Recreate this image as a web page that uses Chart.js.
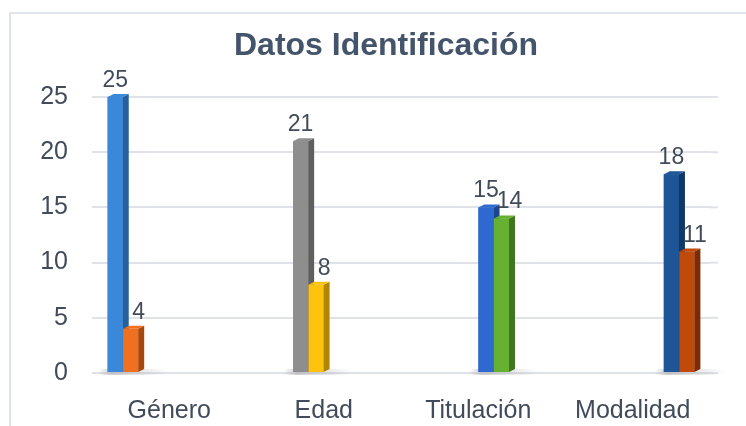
<!DOCTYPE html>
<html lang="es">
<head>
    <meta charset="UTF-8">
    <title>Datos Identificación</title>
    <style>
        body {
            margin: 0;
            padding: 0;
            background-color: #fff;
        }
        .container {
            width: 746px;
            height: 426px;
            position: relative;
        }
    </style>
    <script src="https://cdn.jsdelivr.net/npm/chart.js"></script>
</head>
<body>
    <div class="container">
        <canvas id="datosChart" width="746" height="426"></canvas>
    </div>

    <script>
        const chartTitle = 'Datos Identificación';
        const categories = ['Género', 'Edad', 'Titulación', 'Modalidad'];

        // one series per bar, each only has a value in its own category
        const generoA = [25, null, null, null];
        const generoB = [4, null, null, null];
        const edadA = [null, 21, null, null];
        const edadB = [null, 8, null, null];
        const titulacionA = [null, null, 15, null];
        const titulacionB = [null, null, 14, null];
        const modalidadA = [null, null, null, 18];
        const modalidadB = [null, null, null, 11];

        const yTicks = [0, 5, 10, 15, 20, 25];

        const series = [generoA, generoB, edadA, edadB, titulacionA, titulacionB, modalidadA, modalidadB];
        const faceColors = ['#3a88da', '#f07022', '#8e8e8e', '#ffc20e', '#2f68cf', '#66b032', '#1d5597', '#c04a0a'];
        const sideColors = ['#275f9c', '#a9480e', '#5f5f5f', '#b08500', '#1e4590', '#3f7620', '#103866', '#7c2b04'];

        const textColor = '#414b5a';
        const fontFamily = '"Liberation Sans", Arial, sans-serif';

        const depthX = 6, depthY = -3;

        const background = {
            id: 'background',
            beforeDraw(chart) {
                const ctx = chart.ctx;
                ctx.save();
                ctx.fillStyle = '#fff';
                ctx.fillRect(0, 0, chart.width, chart.height);
                ctx.strokeStyle = '#dfe3ea';
                ctx.lineWidth = 2;
                ctx.beginPath();
                ctx.moveTo(10, chart.height);
                ctx.lineTo(10, 13);
                ctx.lineTo(chart.width, 13);
                ctx.stroke();
                // title sits over the middle of the frame, not the plot
                ctx.font = 'bold 32px ' + fontFamily;
                ctx.fillStyle = '#44546a';
                ctx.textAlign = 'center';
                ctx.textBaseline = 'middle';
                ctx.fillText(chartTitle, 386, 46);
                ctx.restore();
            },
            beforeDatasetsDraw(chart) {
                const ctx = chart.ctx;
                const area = chart.chartArea;
                const yScale = chart.scales.y;
                const base = yScale.getPixelForValue(0);
                ctx.save();
                // the back wall reaches a bit past the plot area
                ctx.strokeStyle = '#dfe2e7';
                ctx.lineWidth = 2;
                yTicks.forEach(v => {
                    const y = yScale.getPixelForValue(v);
                    ctx.beginPath();
                    ctx.moveTo(area.right, y);
                    ctx.lineTo(area.right + 8, y);
                    ctx.stroke();
                });
                // soft floor shadows under each pair of bars
                chart.data.datasets.forEach((ds, i) => {
                    if (i % 2 === 1) return;
                    const meta = chart.getDatasetMeta(i);
                    meta.data.forEach((bar, j) => {
                        if (ds.data[j] == null) return;
                        const left = bar.x - bar.width / 2;
                        const g = ctx.createLinearGradient(left - 10, 0, left + bar.width * 2 + 30, 0);
                        g.addColorStop(0, 'rgba(150,150,150,0)');
                        g.addColorStop(0.2, 'rgba(150,150,150,0.45)');
                        g.addColorStop(1, 'rgba(150,150,150,0)');
                        ctx.fillStyle = g;
                        ctx.beginPath();
                        ctx.moveTo(left - 12, base + 2);
                        ctx.lineTo(left + bar.width * 2 + 30, base + 2);
                        ctx.lineTo(left + bar.width * 2 + 34, base - 4);
                        ctx.lineTo(left - 6, base - 4);
                        ctx.closePath();
                        ctx.fill();
                    });
                });
                ctx.restore();
            }
        };

        // redraws every bar front to back with a side and a top so the
        // later bar of a pair sits in front of the earlier one's side
        const bars3d = {
            id: 'bars3d',
            afterDatasetsDraw(chart) {
                const ctx = chart.ctx;
                ctx.save();
                chart.data.datasets.forEach((ds, i) => {
                    const meta = chart.getDatasetMeta(i);
                    meta.data.forEach((bar, j) => {
                        if (ds.data[j] == null) return;
                        const l = bar.x - bar.width / 2;
                        const r = bar.x + bar.width / 2;
                        ctx.fillStyle = faceColors[i];
                        ctx.fillRect(l, bar.y, r - l, bar.base - bar.y);
                        ctx.fillStyle = sideColors[i];
                        ctx.beginPath();
                        ctx.moveTo(r, bar.y);
                        ctx.lineTo(r + depthX, bar.y + depthY);
                        ctx.lineTo(r + depthX, bar.base + depthY);
                        ctx.lineTo(r, bar.base);
                        ctx.closePath();
                        ctx.fill();
                        ctx.fillStyle = faceColors[i];
                        ctx.beginPath();
                        ctx.moveTo(l, bar.y);
                        ctx.lineTo(l + depthX, bar.y + depthY);
                        ctx.lineTo(r + depthX, bar.y + depthY);
                        ctx.lineTo(r, bar.y);
                        ctx.closePath();
                        ctx.fill();
                    });
                });

                ctx.font = '23px ' + fontFamily;
                ctx.fillStyle = textColor;
                ctx.textAlign = 'center';
                ctx.textBaseline = 'alphabetic';
                chart.data.datasets.forEach((ds, i) => {
                    const meta = chart.getDatasetMeta(i);
                    meta.data.forEach((bar, j) => {
                        if (ds.data[j] == null) return;
                        const shift = i % 2 === 1 ? 8 : 0;
                        ctx.fillText(String(ds.data[j]), bar.x + shift, bar.y - 10);
                    });
                });
                ctx.restore();
            }
        };

        const ctx = document.getElementById('datosChart').getContext('2d');
        new Chart(ctx, {
            type: 'bar',
            data: {
                labels: categories,
                datasets: series.map((values, i) => ({
                    data: values,
                    backgroundColor: faceColors[i],
                    borderWidth: 0,
                    categoryPercentage: 0.8,
                    barPercentage: 0.98
                }))
            },
            options: {
                responsive: false,
                animation: false,
                layout: {
                    padding: { top: 97, right: 36, bottom: 0, left: 0 }
                },
                plugins: {
                    legend: { display: false },
                    tooltip: { enabled: false },
                    title: { display: false }
                },
                scales: {
                    x: {
                        grid: { display: false },
                        border: { display: false },
                        ticks: {
                            color: textColor,
                            font: { family: fontFamily, size: 25 },
                            padding: 15
                        },
                        afterFit(scale) { scale.height = 53; }
                    },
                    y: {
                        min: 0,
                        max: 25,
                        afterBuildTicks(scale) {
                            scale.ticks = yTicks.map(v => ({ value: v }));
                        },
                        grid: { color: '#dfe2e7', lineWidth: 2, drawTicks: false },
                        border: { display: false },
                        ticks: {
                            color: textColor,
                            font: { family: fontFamily, size: 25 },
                            padding: 24
                        },
                        afterFit(scale) { scale.width = 92; }
                    }
                }
            },
            plugins: [background, bars3d]
        });
    </script>
</body>
</html>
